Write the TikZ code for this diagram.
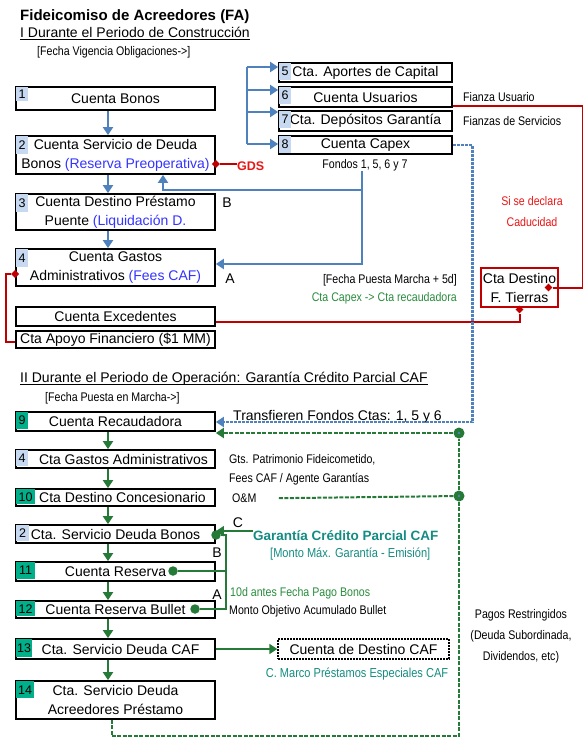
\documentclass[tikz,border=0pt]{standalone}
\usepackage{fontspec}
\setmainfont{Liberation Sans}
\newfontfamily\narrowfont[FakeStretch=0.85]{Liberation Sans}
\usetikzlibrary{arrows.meta,shapes.geometric,calc}

\definecolor{lineblue}{RGB}{79,129,189}
\definecolor{numblue}{RGB}{198,217,240}
\definecolor{numgreen}{RGB}{0,176,138}
\definecolor{txtblue}{RGB}{51,51,255}
\definecolor{darkred}{RGB}{192,0,0}
\definecolor{brightred}{RGB}{235,20,20}
\definecolor{dkgreen}{RGB}{38,122,55}
\definecolor{notegreen}{RGB}{40,140,60}
\definecolor{cafteal}{RGB}{20,140,130}

\newcommand\boxfont{\fontsize{14}{19}\selectfont}
\newcommand\notefont{\narrowfont\fontsize{12.5}{21}\selectfont}
\newcommand\numfont{\fontsize{12.5}{14}\selectfont}

\tikzset{
  acct/.style={draw,line width=1.8pt,minimum width=199pt,minimum height=19pt,inner sep=0pt,font=\boxfont,align=center},
  subacct/.style={acct,minimum width=173pt},
  numb/.style={fill=numblue,anchor=north west,inner sep=0pt,minimum width=12pt,minimum height=16.5pt,font=\numfont},
  numg/.style={numb,fill=numgreen},
  note/.style={font=\notefont,inner sep=0pt,anchor=base west},
  lbl/.style={font=\boxfont,inner sep=0pt,anchor=base},
  bline/.style={draw=lineblue,line width=2.2pt},
  barrow/.style={bline,-{Triangle[length=8pt,width=10pt]}},
  bdash/.style={bline,dash pattern=on 3pt off 1pt},
  gline/.style={draw=dkgreen,line width=2pt},
  garrow/.style={gline,-{Triangle[length=8pt,width=10pt]}},
  gdash/.style={gline,dash pattern=on 4pt off 1.5pt},
  rline/.style={draw=darkred,line width=2pt},
  rdia/.style={diamond,fill=darkred,inner sep=0pt,minimum size=8pt},
  gdot/.style={circle,fill=dkgreen,inner sep=0pt,minimum size=11pt,
    path picture={\fill[lineblue] (path picture bounding box.center) circle (1.3pt);}},
  sdot/.style={circle,fill=dkgreen,inner sep=0pt,minimum size=9.5pt}
}

\begin{document}
\begin{tikzpicture}[x=1pt,y=-1pt]
\useasboundingbox (0,0) rectangle (583,737);

% titulos
\node[anchor=base west,inner sep=0pt,font=\bfseries\fontsize{15}{18}\selectfont] (title) at (20,20) {Fideicomiso de Acreedores (FA)};
\node[lbl,anchor=base west] (sec1) at (20,37) {I Durante el Periodo de Construcción};
\draw[line width=1.2pt] ([yshift=-2.5pt]sec1.base west) -- ([yshift=-2.5pt]sec1.base east);
\node[note] (fvig) at (37,55) {[Fecha Vigencia Obligaciones->]};

% periodo de construccion
\node[acct,minimum height=23pt] (b1) at (115.5,98.5) {Cuenta Bonos};
\node[acct,minimum height=38pt] (b2) at (115.5,155) {Cuenta Servicio de Deuda\\Bonos {\color{txtblue}(Reserva Preoperativa)}};
\node[acct,minimum height=36pt] (b3) at (115.5,212) {Cuenta Destino Préstamo\\Puente {\color{txtblue}(Liquidación D.}};
\node[acct,minimum height=37pt] (b4) at (115.5,267.5) {Cuenta Gastos\\Administrativos {\color{txtblue}(Fees CAF)}};
\node[acct] (bex) at (115.5,316.5) {Cuenta Excedentes};
\node[acct,minimum height=17pt] (bap) at (115.5,339.5) {Cta Apoyo Financiero (\$1 MM)};

\node[subacct] (b5) at (365.5,72.5) {Cta. Aportes de Capital};
\node[subacct,minimum height=20pt] (b6) at (365.5,97) {Cuenta Usuarios};
\node[subacct,minimum height=20pt] (b7) at (365.5,121) {Cta. Depósitos Garantía};
\node[subacct,minimum height=18pt] (b8) at (365.5,145) {Cuenta Capex};

\node[numb,minimum height=14pt] (n1) at ([shift={(0.9pt,-0.9pt)}]b1.north west) {1};
\foreach \k in {2,3,4}
  \node[numb,minimum height=18pt] (n\k) at ([shift={(0.9pt,-0.9pt)}]b\k.north west) {\k};
\foreach \k in {5,...,8}
  \node[numb] (n\k) at ([shift={(0.9pt,-0.9pt)}]b\k.north west) {\k};

\node[note] (fusu) at (463,101.5) {Fianza Usuario};
\node[note] (fser) at (463,125.5) {Fianzas de Servicios};
\node[note,anchor=base] (fondos) at (365,168.5) {Fondos 1, 5, 6 y 7};
\node[anchor=base west,inner sep=0pt,text=brightred,font=\bfseries\fontsize{12.5}{14}\selectfont] (gds) at (237,170) {GDS};
\node[lbl] (lb1) at (227,207) {B};
\node[lbl] (la1) at (230,283) {A};
\node[font=\notefont,text=brightred,align=center,inner sep=0pt] (cadu) at (532,212) {Si se declara\\Caducidad};
\node[note,anchor=base east] (fpm) at (457,283.5) {[Fecha Puesta Marcha + 5d]};
\node[note,anchor=base east,text=notegreen] (capx) at (457,301.5) {Cta Capex -> Cta recaudadora};

\node[draw=darkred,line width=2pt,minimum width=77pt,minimum height=39pt,inner sep=0pt,font=\boxfont,align=center] (ctd) at (519.5,287.5) {Cta Destino\\F. Tierras};

% flechas azules
\coordinate (sp) at (108,0);
\draw[barrow] (b1.south -| sp) -- (b2.north -| sp);
\draw[barrow] (b2.south -| sp) -- (b3.north -| sp);
\draw[barrow] (b3.south -| sp) -- (b4.north -| sp);

\coordinate (brk) at (247,67);
\foreach \k/\dy in {5/5.5,6/7,7/9,8/1}{
  \coordinate (t\k) at ([yshift=\dy pt]b\k.west);
  \draw[barrow] (brk |- t\k) -- (t\k);
}
\draw[bline] (brk |- t5) -- (brk |- t8);

\coordinate (b2in) at ([xshift=47.5pt]b2.south);
\coordinate (fsplit) at ([xshift=-3pt,yshift=-19pt]fondos.south);
\draw[barrow] ([xshift=-3pt]fondos.south) |- ([yshift=3.5pt]b4.east);
\draw[barrow] (fsplit) -| (b2in);

% conectores rojos
\node[rdia] (dgds) at (b2.east |- 0,164) {};
\node[rdia] (db4) at (b4.west |- 0,274) {};
\node[rdia] (dct1) at ([yshift=-1.5pt]ctd.south) {};
\node[rdia] (dct2) at ([xshift=-10.5pt]ctd.east) {};
\draw[rline] (dgds) -- (dgds -| gds.west);
\draw[rline] (db4) -- ++(-9,0) |- ([yshift=-2pt]bap.west);
\draw[rline] ([yshift=-5pt]bex.east) -| (dct1);
\draw[rline] ([yshift=-9pt]b6.east) -- ++(130,0) |- (dct2);

% periodo de operacion
\node[lbl,anchor=base west] (sec2) at (20,382) {II Durante el Periodo de Operación: Garantía Crédito Parcial CAF};
\draw[line width=1.2pt] ([yshift=-2.5pt]sec2.base west) -- ([yshift=-2.5pt]sec2.base east);
\node[note] (fpem) at (45,401) {[Fecha Puesta en Marcha->]};

\node[acct] (b9) at (115.5,421.5) {Cuenta Recaudadora};
\node[acct,minimum height=18pt] (b4o) at (115.5,459) {\hspace*{16pt}Cta Gastos Administrativos};
\node[acct,minimum height=17pt] (b10) at (115.5,497.5) {\hspace*{14pt}Cta Destino Concesionario};
\node[acct,minimum height=18pt] (b2o) at (115.5,534) {Cta. Servicio Deuda Bonos};
\node[acct] (b11) at (115.5,571.5) {Cuenta Reserva};
\node[acct,minimum height=17pt] (b12) at (115.5,609.5) {Cuenta Reserva Bullet};
\node[acct,minimum height=20pt] (b13) at (115.5,649) {\hspace*{10pt}Cta. Servicio Deuda CAF};
\node[acct,minimum height=38pt] (b14) at (115.5,700) {Cta. Servicio Deuda\\Acreedores Préstamo};
\node[draw,line width=1.5pt,dash pattern=on 2pt off 1pt,minimum width=171pt,minimum height=20pt,inner sep=0pt,font=\boxfont] (dcaf) at (363.5,649) {Cuenta de Destino CAF};

\node[numg] (n9) at ([shift={(0.9pt,-0.9pt)}]b9.north west) {9};
\node[numb,minimum height=16pt] (n4o) at ([shift={(0.9pt,-0.9pt)}]b4o.north west) {4};
\node[numg,minimum width=19pt,minimum height=15pt] (n10) at ([shift={(0.9pt,-0.9pt)}]b10.north west) {10};
\node[numb,minimum width=13pt,minimum height=16pt] (n2o) at ([shift={(0.9pt,-0.9pt)}]b2o.north west) {2};
\node[numg,minimum width=19pt] (n11) at ([shift={(0.9pt,-0.9pt)}]b11.north west) {11};
\node[numg,minimum width=19pt,minimum height=15pt] (n12) at ([shift={(0.9pt,-0.9pt)}]b12.north west) {12};
\node[numg,minimum width=16pt,minimum height=18pt] (n13) at ([shift={(0.9pt,-0.9pt)}]b13.north west) {13};
\node[numg,minimum width=18pt,minimum height=17pt] (n14) at ([shift={(0.9pt,-0.9pt)}]b14.north west) {14};

\node[lbl] (trf) at (337.5,420) {Transfieren Fondos Ctas: 1, 5 y 6};
\node[note] (gts) at (229,463.5) {Gts. Patrimonio Fideicometido,};
\node[note] (fees) at (229,482.5) {Fees CAF / Agente Garantías};
\node[note] (om) at (232,502.5) {O\&M};
\node[lbl] (lc) at (238,527) {C};
\node[lbl] (lb2) at (217,557) {B};
\node[lbl] (la2) at (217,599) {A};
\node[anchor=base west,inner sep=0pt,text=cafteal,font=\bfseries\fontsize{13.5}{16}\selectfont] (gcp) at (253,540) {Garantía Crédito Parcial CAF};
\node[anchor=base west,inner sep=0pt,text=cafteal,font=\narrowfont\fontsize{13}{16}\selectfont] (mmax) at (270,557.5) {[Monto Máx. Garantía - Emisión]};
\node[note,text=notegreen] (d10) at (230,596.5) {10d antes Fecha Pago Bonos};
\node[note] (mobj) at (229,614.5) {Monto Objetivo Acumulado Bullet};
\node[anchor=base,inner sep=0pt,text=cafteal,font=\narrowfont\fontsize{13}{16}\selectfont] (cmarco) at (357,677.5) {C. Marco Préstamos Especiales CAF};
\node[font=\notefont,align=center,inner sep=0pt] (pagos) at (521,636) {Pagos Restringidos\\(Deuda Subordinada,\\Dividendos, etc)};

% flechas verdes
\draw[garrow] (b9.south -| sp) -- (b4o.north -| sp);
\draw[garrow] (b4o.south -| sp) -- (b10.north -| sp);
\draw[garrow] (b10.south -| sp) -- (b2o.north -| sp);
\draw[garrow] (b2o.south -| sp) -- (b11.north -| sp);
\draw[garrow] (b11.south -| sp) -- (b12.north -| sp);
\draw[garrow] (b12.south -| sp) -- (b13.north -| sp);
\draw[garrow] (b13.south -| sp) -- (b14.north -| sp);
\draw[garrow] (b13.east) -- (dcaf.west);

% capex -> recaudadora
\draw[bdash,-{Triangle[length=8pt,width=10pt]}] (b8.east) -- ++(19.5,0) |- ([yshift=-0.5pt]b9.east);

% pagos restringidos
\node[gdot] (g1) at (459,433) {};
\node[gdot] (g2) at (459,496) {};
\coordinate (gbot) at (459,736);
\coordinate (omend) at ([xshift=22pt]om.east);
\draw[gdash] ([xshift=-4pt]b14.south) |- (gbot) -- (g2);
\draw[gdash] (g2) -- (g1);
\draw[gdash,-{Triangle[length=8pt,width=10pt]}] (g1) -- (g1 -| b9.east);
\draw[gdash] (g2) -- (omend);

% garantia
\coordinate (gv) at (226,0);
\node[sdot] (d2) at (216,535) {};
\node[sdot] (d11) at (173,571) {};
\node[sdot] (d12) at (195,609) {};
\draw[gline] (d2) -| (gv |- d12) -- (d12);
\draw[gline] (d11) -- (d11 -| gv);
\draw[garrow] ([yshift=4pt]gcp.west) -- ([yshift=4pt]gcp.west -| b2o.east);
\end{tikzpicture}
\end{document}
